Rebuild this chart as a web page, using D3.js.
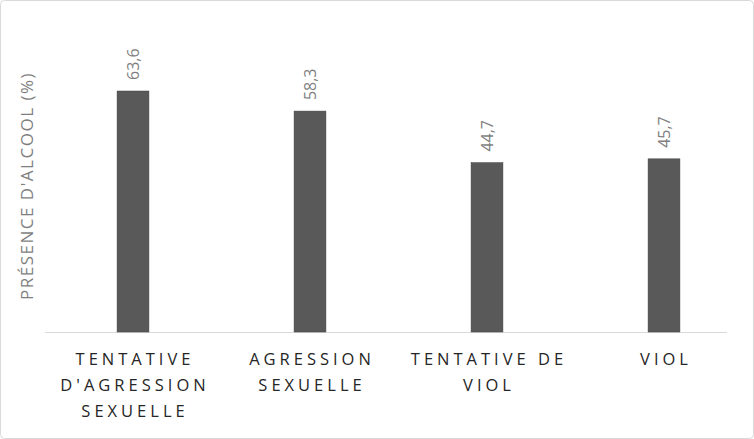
<!DOCTYPE html>
<html><head><meta charset="utf-8">
<script src="https://cdn.jsdelivr.net/npm/d3@7"></script>
<style>body{margin:0;background:#fff}svg{display:block}</style>
</head><body>
<svg id="c" width="754" height="439"></svg>
<script>
const categories = [["TENTATIVE","D'AGRESSION","SEXUELLE"],["AGRESSION","SEXUELLE"],["TENTATIVE DE","VIOL"],["VIOL"]];
const values = [63.6, 58.3, 44.7, 45.7];
const labels = ["63,6","58,3","44,7","45,7"];

const svg = d3.select("#c");
svg.append("rect").attr("x",0.5).attr("y",0.5).attr("width",753).attr("height",438)
  .attr("rx",4).attr("fill","#fff").attr("stroke","#d9d9d9");
const m = {l:45, r:727, b:332};
const x = d3.scaleBand().domain(d3.range(values.length)).range([44.5, 752.5]).paddingInner(0.82).paddingOuter(0.41);
const y = d3.scaleLinear().domain([0, 63.6]).range([m.b, 91]);

svg.append("line").attr("x1",m.l).attr("x2",m.r).attr("y1",m.b+0.5).attr("y2",m.b+0.5).attr("stroke","#d9d9d9");
svg.selectAll(".bar").data(values).join("rect")
  .attr("x",(d,i)=>x(i)).attr("width",x.bandwidth())
  .attr("y",d=>y(d)).attr("height",d=>m.b-y(d))
  .attr("fill","#595959").attr("stroke","#404040").attr("stroke-width",0.5);
svg.selectAll(".lbl").data(values).join("text")
  .attr("transform",(d,i)=>`translate(${x(i)+x.bandwidth()/2+6},${y(d)-11}) rotate(-90)`)
  .attr("text-anchor","start").attr("font-family","Open Sans").attr("font-size",16)
  .attr("fill","#7f7f7f").text((d,i)=>labels[i]);
categories.forEach((lines,i)=>{
  const t = svg.append("text").attr("text-anchor","middle").attr("font-family","Open Sans")
    .attr("font-size",16.5).attr("fill","#262626").attr("letter-spacing","4px");
  lines.forEach((s,j)=>t.append("tspan").attr("x",x(i)+x.bandwidth()/2+2).attr("y",365+j*26).text(s));
});
svg.append("text").attr("transform","translate(33,186) rotate(-90)").attr("text-anchor","middle")
  .attr("font-family","Open Sans").attr("font-size",17).attr("fill","#7f7f7f").attr("letter-spacing","1.5px")
  .text("PRÉSENCE D'ALCOOL (%)");
</script>
</body></html>
